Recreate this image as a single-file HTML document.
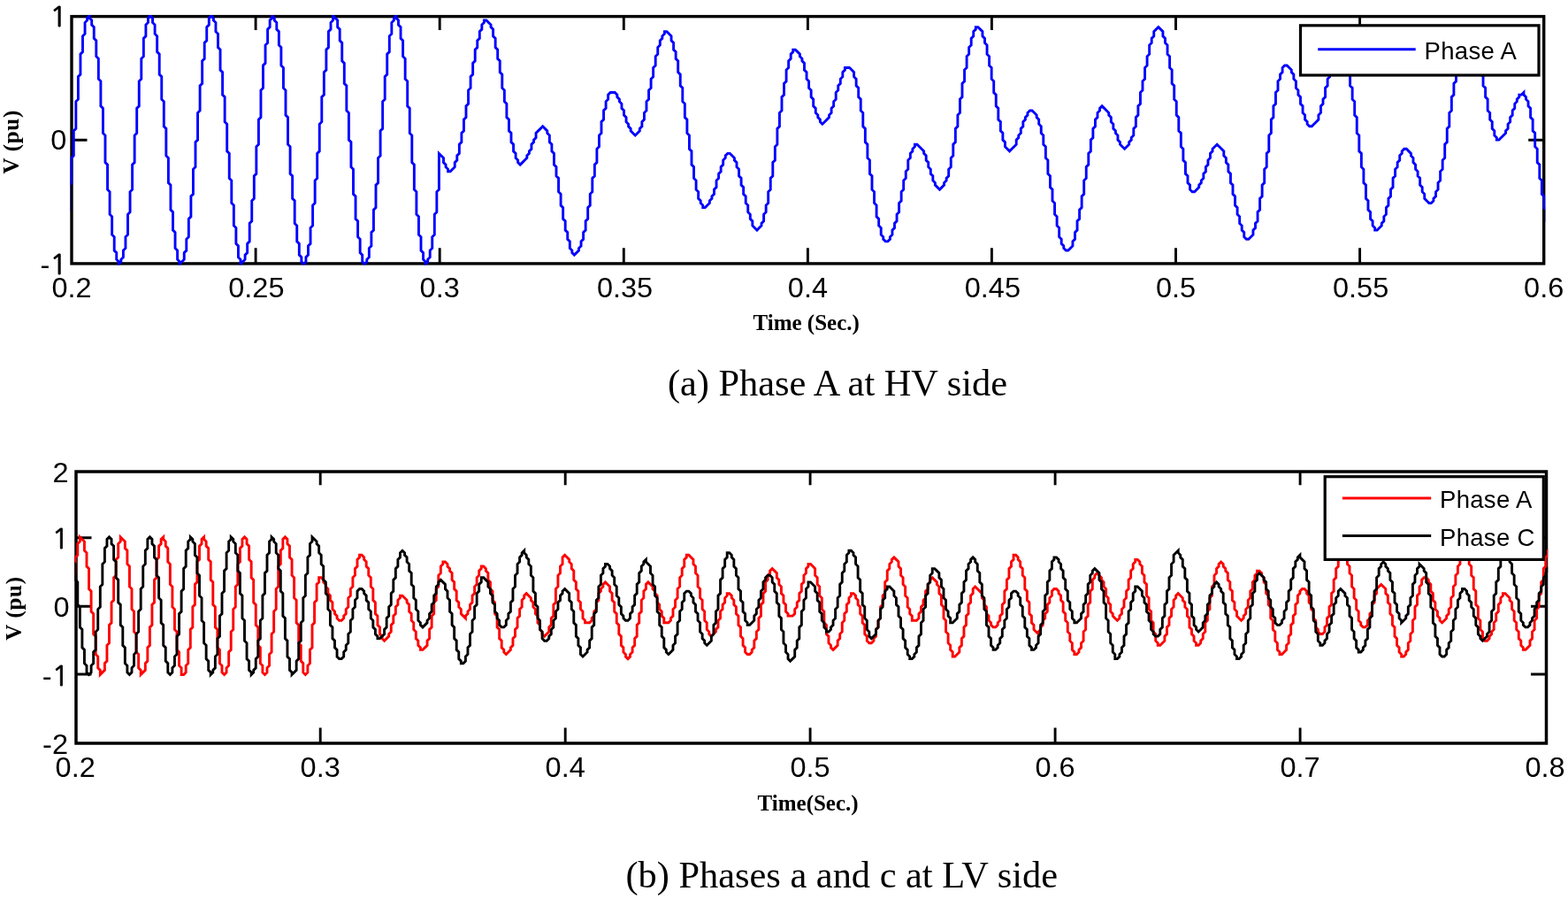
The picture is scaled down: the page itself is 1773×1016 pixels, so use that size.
<!DOCTYPE html>
<html><head><meta charset="utf-8"><style>
html,body{margin:0;padding:0;background:#fff;}
svg{display:block;}
.tk{font-family:"Liberation Sans",Arial,sans-serif;font-size:32.5px;fill:#000;}
.one{font-family:"NanumGothic","Liberation Sans",sans-serif;stroke:#000;stroke-width:0.8px;}
.lg{font-family:"Liberation Sans",Arial,sans-serif;font-size:27.5px;fill:#000;letter-spacing:0.3px;}
.al{font-family:"Liberation Serif","Times New Roman",serif;font-weight:bold;font-size:25px;fill:#000;}
.cap{font-family:"Liberation Serif","Times New Roman",serif;font-size:42.4px;fill:#000;}
</style></head><body>
<svg width="1773" height="1016" viewBox="0 0 1773 1016">
<defs>
<clipPath id="ca"><rect x="79.4" y="17.0" width="1667.9" height="282.49999999999994"/></clipPath>
<clipPath id="cb"><rect x="84.3" y="531.3" width="1665.9" height="310.4"/></clipPath>
</defs>
<rect width="1773" height="1016" fill="#fff"/>
<!-- plot a -->
<path d="M289.1 297.9V280.3M289.1 18.6V33.9M497.2 297.9V280.3M497.2 18.6V33.9M705.3 297.9V280.3M705.3 18.6V33.9M913.4 297.9V280.3M913.4 18.6V33.9M1121.4 297.9V280.3M1121.4 18.6V33.9M1329.5 297.9V280.3M1329.5 18.6V33.9M1537.6 297.9V280.3M1537.6 18.6V33.9M81.0 158.2H98.5M1745.7 158.2H1728.2" stroke="#000" stroke-width="2.9" fill="none"/>
<rect x="81.0" y="18.6" width="1664.7" height="279.29999999999995" fill="none" stroke="#000" stroke-width="3.4"/>
<g clip-path="url(#ca)" fill="none" stroke-linejoin="miter" stroke-linecap="square">
<path d="M78.20 237.15L78.20 209.10L80.75 206.55L80.75 178.50L83.30 175.95L83.30 147.90L85.85 145.35L85.85 114.75L88.40 112.20L88.40 86.70L90.95 84.15L90.95 61.20L93.50 58.65L93.50 40.80L96.05 38.25L96.05 25.50L98.60 22.95L98.60 20.40L101.15 17.85L101.15 20.40L103.70 22.95L103.70 28.05L106.25 30.60L106.25 43.35L108.80 45.90L108.80 63.75L111.35 66.30L111.35 89.25L113.90 91.80L113.90 119.85L116.45 122.40L116.45 150.45L119.00 153.00L119.00 183.60L121.55 186.15L121.55 214.20L124.10 216.75L124.10 242.25L126.65 244.80L126.65 265.20L129.20 267.75L129.20 283.05L131.75 285.60L131.75 293.25L134.30 295.80L134.30 298.35L136.85 295.80L136.85 293.25L139.40 290.70L139.40 283.05L141.95 280.50L141.95 267.75L144.50 265.20L144.50 242.25L147.05 239.70L147.05 216.75L149.60 214.20L149.60 186.15L152.15 183.60L152.15 153.00L154.70 150.45L154.70 122.40L157.25 119.85L157.25 91.80L159.80 89.25L159.80 66.30L162.35 63.75L162.35 43.35L164.90 40.80L164.90 28.05L167.45 25.50L167.45 20.40L170.00 17.85L172.55 20.40L172.55 25.50L175.10 28.05L175.10 38.25L177.65 40.80L177.65 58.65L180.20 61.20L180.20 84.15L182.75 86.70L182.75 112.20L185.30 114.75L185.30 142.80L187.85 145.35L187.85 175.95L190.40 178.50L190.40 206.55L192.95 209.10L192.95 237.15L195.50 239.70L195.50 260.10L198.05 262.65L198.05 280.50L200.60 283.05L200.60 293.25L203.15 295.80L203.15 298.35L205.70 295.80L208.25 293.25L208.25 285.60L210.80 283.05L210.80 270.30L213.35 267.75L213.35 247.35L215.90 244.80L215.90 221.85L218.45 219.30L218.45 191.25L221.00 188.70L221.00 160.65L223.55 158.10L223.55 127.50L226.10 124.95L226.10 96.90L228.65 94.35L228.65 68.85L231.20 66.30L231.20 48.45L233.75 45.90L233.75 30.60L236.30 28.05L236.30 20.40L238.85 17.85L241.40 20.40L241.40 22.95L243.95 25.50L243.95 35.70L246.50 38.25L246.50 53.55L249.05 56.10L249.05 79.05L251.60 81.60L251.60 107.10L254.15 109.65L254.15 137.70L256.70 140.25L256.70 170.85L259.25 173.40L259.25 201.45L261.80 204.00L261.80 229.50L264.35 232.05L264.35 255.00L266.90 257.55L266.90 275.40L269.45 277.95L269.45 290.70L272.00 293.25L272.00 298.35L274.55 295.80L277.10 293.25L277.10 288.15L279.65 285.60L279.65 275.40L282.20 272.85L282.20 252.45L284.75 249.90L284.75 226.95L287.30 224.40L287.30 198.90L289.85 196.35L289.85 165.75L292.40 163.20L292.40 135.15L294.95 132.60L294.95 102.00L297.50 99.45L297.50 73.95L300.05 71.40L300.05 51.00L302.60 48.45L302.60 33.15L305.15 30.60L305.15 22.95L307.70 20.40L307.70 17.85L310.25 20.40L310.25 22.95L312.80 25.50L312.80 33.15L315.35 35.70L315.35 51.00L317.90 53.55L317.90 73.95L320.45 76.50L320.45 99.45L323.00 102.00L323.00 130.05L325.55 132.60L325.55 163.20L328.10 165.75L328.10 196.35L330.65 198.90L330.65 224.40L333.20 226.95L333.20 252.45L335.75 255.00L335.75 272.85L338.30 275.40L338.30 288.15L340.85 290.70L340.85 295.80L343.40 298.35L345.95 295.80L345.95 290.70L348.50 288.15L348.50 277.95L351.05 275.40L351.05 257.55L353.60 255.00L353.60 232.05L356.15 229.50L356.15 204.00L358.70 201.45L358.70 173.40L361.25 170.85L361.25 140.25L363.80 137.70L363.80 109.65L366.35 107.10L366.35 81.60L368.90 79.05L368.90 56.10L371.45 53.55L371.45 35.70L374.00 33.15L374.00 25.50L376.55 22.95L376.55 17.85L379.10 20.40L381.65 22.95L381.65 30.60L384.20 33.15L384.20 45.90L386.75 48.45L386.75 68.85L389.30 71.40L389.30 94.35L391.85 96.90L391.85 124.95L394.40 127.50L394.40 158.10L396.95 160.65L396.95 188.70L399.50 191.25L399.50 219.30L402.05 221.85L402.05 247.35L404.60 249.90L404.60 267.75L407.15 270.30L407.15 285.60L409.70 288.15L409.70 295.80L412.25 298.35L414.80 295.80L414.80 293.25L417.35 290.70L417.35 280.50L419.90 277.95L419.90 262.65L422.45 260.10L422.45 237.15L425.00 234.60L425.00 209.10L427.55 206.55L427.55 178.50L430.10 175.95L430.10 147.90L432.65 145.35L432.65 114.75L435.20 112.20L435.20 86.70L437.75 84.15L437.75 61.20L440.30 58.65L440.30 40.80L442.85 38.25L442.85 25.50L445.40 22.95L445.40 20.40L447.95 17.85L447.95 20.40L450.50 22.95L450.50 28.05L453.05 30.60L453.05 43.35L455.60 45.90L455.60 63.75L458.15 66.30L458.15 89.25L460.70 91.80L460.70 119.85L463.25 122.40L463.25 150.45L465.80 153.00L465.80 183.60L468.35 186.15L468.35 214.20L470.90 216.75L470.90 242.25L473.45 244.80L473.45 265.20L476.00 267.75L476.00 283.05L478.55 285.60L478.55 293.25L481.10 295.80L481.10 298.35L483.65 295.80L483.65 293.25L486.20 290.70L486.20 283.05L488.75 280.50L488.75 267.75L491.30 265.20L491.30 242.25L493.85 239.70L493.85 216.75L496.40 214.20L496.40 173.40L498.95 175.95L501.50 178.50L501.50 183.60L504.05 186.15L504.05 188.70L506.60 191.25L506.60 193.80L509.15 193.80L511.70 191.25L514.25 188.70L514.25 183.60L516.80 181.05L516.80 175.95L519.35 173.40L519.35 163.20L521.90 160.65L521.90 150.45L524.45 147.90L524.45 135.15L527.00 132.60L527.00 119.85L529.55 117.30L529.55 102.00L532.10 99.45L532.10 86.70L534.65 84.15L534.65 71.40L537.20 68.85L537.20 56.10L539.75 53.55L539.75 45.90L542.30 43.35L542.30 35.70L544.85 33.15L544.85 28.05L547.40 25.50L547.40 22.95L549.95 22.95L552.50 25.50L555.05 28.05L555.05 30.60L557.60 33.15L557.60 40.80L560.15 43.35L560.15 53.55L562.70 56.10L562.70 66.30L565.25 68.85L565.25 81.60L567.80 84.15L567.80 99.45L570.35 102.00L570.35 114.75L572.90 117.30L572.90 132.60L575.45 135.15L575.45 147.90L578.00 150.45L578.00 160.65L580.55 163.20L580.55 170.85L583.10 173.40L583.10 178.50L585.65 181.05L585.65 183.60L588.20 186.15L590.75 183.60L593.30 181.05L595.85 178.50L595.85 175.95L598.40 173.40L598.40 170.85L600.95 168.30L600.95 163.20L603.50 160.65L603.50 158.10L606.05 155.55L606.05 150.45L608.60 147.90L611.15 145.35L613.70 142.80L616.25 145.35L618.80 147.90L618.80 150.45L621.35 153.00L621.35 160.65L623.90 163.20L623.90 170.85L626.45 173.40L626.45 186.15L629.00 188.70L629.00 198.90L631.55 201.45L631.55 216.75L634.10 219.30L634.10 232.05L636.65 234.60L636.65 247.35L639.20 249.90L639.20 260.10L641.75 262.65L641.75 270.30L644.30 272.85L644.30 280.50L646.85 283.05L646.85 285.60L649.40 288.15L651.95 285.60L654.50 283.05L654.50 280.50L657.05 277.95L657.05 272.85L659.60 270.30L659.60 262.65L662.15 260.10L662.15 249.90L664.70 247.35L664.70 234.60L667.25 232.05L667.25 219.30L669.80 216.75L669.80 201.45L672.35 198.90L672.35 186.15L674.90 183.60L674.90 168.30L677.45 165.75L677.45 153.00L680.00 150.45L680.00 137.70L682.55 135.15L682.55 124.95L685.10 122.40L685.10 114.75L687.65 112.20L687.65 107.10L690.20 104.55L692.75 104.55L695.30 104.55L697.85 107.10L697.85 109.65L700.40 112.20L700.40 114.75L702.95 117.30L702.95 122.40L705.50 124.95L705.50 130.05L708.05 132.60L708.05 137.70L710.60 140.25L710.60 142.80L713.15 145.35L713.15 147.90L715.70 150.45L718.25 153.00L720.80 150.45L723.35 147.90L723.35 145.35L725.90 142.80L725.90 137.70L728.45 135.15L728.45 127.50L731.00 124.95L731.00 114.75L733.55 112.20L733.55 102.00L736.10 99.45L736.10 89.25L738.65 86.70L738.65 76.50L741.20 73.95L741.20 63.75L743.75 61.20L743.75 53.55L746.30 51.00L746.30 45.90L748.85 43.35L748.85 40.80L751.40 38.25L751.40 35.70L753.95 35.70L756.50 38.25L759.05 40.80L759.05 45.90L761.60 48.45L761.60 56.10L764.15 58.65L764.15 66.30L766.70 68.85L766.70 81.60L769.25 84.15L769.25 96.90L771.80 99.45L771.80 114.75L774.35 117.30L774.35 132.60L776.90 135.15L776.90 150.45L779.45 153.00L779.45 168.30L782.00 170.85L782.00 186.15L784.55 188.70L784.55 201.45L787.10 204.00L787.10 214.20L789.65 216.75L789.65 224.40L792.20 226.95L792.20 229.50L794.75 232.05L794.75 234.60L797.30 234.60L799.85 232.05L802.40 229.50L802.40 226.95L804.95 224.40L804.95 221.85L807.50 219.30L807.50 214.20L810.05 211.65L810.05 204.00L812.60 201.45L812.60 196.35L815.15 193.80L815.15 188.70L817.70 186.15L817.70 181.05L820.25 178.50L820.25 175.95L822.80 173.40L825.35 173.40L827.90 175.95L830.45 178.50L830.45 181.05L833.00 183.60L833.00 188.70L835.55 191.25L835.55 198.90L838.10 201.45L838.10 209.10L840.65 211.65L840.65 219.30L843.20 221.85L843.20 229.50L845.75 232.05L845.75 239.70L848.30 242.25L848.30 247.35L850.85 249.90L850.85 255.00L853.40 257.55L855.95 260.10L858.50 257.55L861.05 255.00L861.05 252.45L863.60 249.90L863.60 242.25L866.15 239.70L866.15 232.05L868.70 229.50L868.70 216.75L871.25 214.20L871.25 201.45L873.80 198.90L873.80 183.60L876.35 181.05L876.35 165.75L878.90 163.20L878.90 145.35L881.45 142.80L881.45 127.50L884.00 124.95L884.00 109.65L886.55 107.10L886.55 94.35L889.10 91.80L889.10 79.05L891.65 76.50L891.65 68.85L894.20 66.30L894.20 61.20L896.75 58.65L896.75 56.10L899.30 56.10L901.85 58.65L904.40 61.20L904.40 63.75L906.95 66.30L906.95 68.85L909.50 71.40L909.50 79.05L912.05 81.60L912.05 89.25L914.60 91.80L914.60 99.45L917.15 102.00L917.15 109.65L919.70 112.20L919.70 119.85L922.25 122.40L922.25 127.50L924.80 130.05L924.80 132.60L927.35 135.15L927.35 137.70L929.90 140.25L932.45 137.70L935.00 135.15L937.55 132.60L937.55 130.05L940.10 127.50L940.10 122.40L942.65 119.85L942.65 114.75L945.20 112.20L945.20 104.55L947.75 102.00L947.75 96.90L950.30 94.35L950.30 89.25L952.85 86.70L952.85 81.60L955.40 79.05L955.40 76.50L957.95 76.50L960.50 76.50L963.05 79.05L965.60 81.60L965.60 86.70L968.15 89.25L968.15 96.90L970.70 99.45L970.70 109.65L973.25 112.20L973.25 124.95L975.80 127.50L975.80 142.80L978.35 145.35L978.35 160.65L980.90 163.20L980.90 178.50L983.45 181.05L983.45 196.35L986.00 198.90L986.00 214.20L988.55 216.75L988.55 229.50L991.10 232.05L991.10 244.80L993.65 247.35L993.65 255.00L996.20 257.55L996.20 265.20L998.75 267.75L998.75 270.30L1001.30 272.85L1003.85 272.85L1006.40 270.30L1006.40 267.75L1008.95 265.20L1008.95 260.10L1011.50 257.55L1011.50 252.45L1014.05 249.90L1014.05 242.25L1016.60 239.70L1016.60 229.50L1019.15 226.95L1019.15 216.75L1021.70 214.20L1021.70 204.00L1024.25 201.45L1024.25 193.80L1026.80 191.25L1026.80 181.05L1029.35 178.50L1029.35 173.40L1031.90 170.85L1031.90 168.30L1034.45 165.75L1034.45 163.20L1037.00 163.20L1039.55 165.75L1042.10 168.30L1044.65 170.85L1044.65 173.40L1047.20 175.95L1047.20 181.05L1049.75 183.60L1049.75 188.70L1052.30 191.25L1052.30 196.35L1054.85 198.90L1054.85 204.00L1057.40 206.55L1057.40 209.10L1059.95 211.65L1062.50 214.20L1065.05 211.65L1067.60 209.10L1067.60 206.55L1070.15 204.00L1070.15 201.45L1072.70 198.90L1072.70 191.25L1075.25 188.70L1075.25 178.50L1077.80 175.95L1077.80 163.20L1080.35 160.65L1080.35 145.35L1082.90 142.80L1082.90 130.05L1085.45 127.50L1085.45 112.20L1088.00 109.65L1088.00 94.35L1090.55 91.80L1090.55 79.05L1093.10 76.50L1093.10 63.75L1095.65 61.20L1095.65 53.55L1098.20 51.00L1098.20 43.35L1100.75 40.80L1100.75 35.70L1103.30 33.15L1103.30 30.60L1105.85 30.60L1108.40 33.15L1110.95 35.70L1110.95 40.80L1113.50 43.35L1113.50 48.45L1116.05 51.00L1116.05 61.20L1118.60 63.75L1118.60 73.95L1121.15 76.50L1121.15 89.25L1123.70 91.80L1123.70 104.55L1126.25 107.10L1126.25 119.85L1128.80 122.40L1128.80 135.15L1131.35 137.70L1131.35 147.90L1133.90 150.45L1133.90 158.10L1136.45 160.65L1136.45 165.75L1139.00 168.30L1141.55 170.85L1144.10 168.30L1146.65 165.75L1149.20 163.20L1149.20 158.10L1151.75 155.55L1151.75 153.00L1154.30 150.45L1154.30 145.35L1156.85 142.80L1156.85 137.70L1159.40 135.15L1159.40 132.60L1161.95 130.05L1161.95 127.50L1164.50 124.95L1167.05 124.95L1169.60 127.50L1172.15 130.05L1172.15 132.60L1174.70 135.15L1174.70 140.25L1177.25 142.80L1177.25 150.45L1179.80 153.00L1179.80 163.20L1182.35 165.75L1182.35 178.50L1184.90 181.05L1184.90 196.35L1187.45 198.90L1187.45 211.65L1190.00 214.20L1190.00 226.95L1192.55 229.50L1192.55 242.25L1195.10 244.80L1195.10 255.00L1197.65 257.55L1197.65 267.75L1200.20 270.30L1200.20 275.40L1202.75 277.95L1202.75 280.50L1205.30 283.05L1207.85 283.05L1210.40 280.50L1212.95 277.95L1212.95 272.85L1215.50 270.30L1215.50 262.65L1218.05 260.10L1218.05 249.90L1220.60 247.35L1220.60 237.15L1223.15 234.60L1223.15 221.85L1225.70 219.30L1225.70 204.00L1228.25 201.45L1228.25 188.70L1230.80 186.15L1230.80 173.40L1233.35 170.85L1233.35 158.10L1235.90 155.55L1235.90 145.35L1238.45 142.80L1238.45 135.15L1241.00 132.60L1241.00 127.50L1243.55 124.95L1243.55 122.40L1246.10 119.85L1248.65 122.40L1251.20 124.95L1253.75 127.50L1253.75 130.05L1256.30 132.60L1256.30 137.70L1258.85 140.25L1258.85 145.35L1261.40 147.90L1261.40 150.45L1263.95 153.00L1263.95 158.10L1266.50 160.65L1266.50 163.20L1269.05 165.75L1271.60 168.30L1274.15 165.75L1276.70 163.20L1276.70 160.65L1279.25 158.10L1279.25 155.55L1281.80 153.00L1281.80 145.35L1284.35 142.80L1284.35 132.60L1286.90 130.05L1286.90 119.85L1289.45 117.30L1289.45 104.55L1292.00 102.00L1292.00 91.80L1294.55 89.25L1294.55 76.50L1297.10 73.95L1297.10 63.75L1299.65 61.20L1299.65 51.00L1302.20 48.45L1302.20 43.35L1304.75 40.80L1304.75 35.70L1307.30 33.15L1309.85 30.60L1312.40 33.15L1314.95 35.70L1314.95 40.80L1317.50 43.35L1317.50 48.45L1320.05 51.00L1320.05 61.20L1322.60 63.75L1322.60 76.50L1325.15 79.05L1325.15 94.35L1327.70 96.90L1327.70 112.20L1330.25 114.75L1330.25 130.05L1332.80 132.60L1332.80 147.90L1335.35 150.45L1335.35 165.75L1337.90 168.30L1337.90 181.05L1340.45 183.60L1340.45 196.35L1343.00 198.90L1343.00 206.55L1345.55 209.10L1345.55 214.20L1348.10 216.75L1350.65 216.75L1353.20 214.20L1355.75 211.65L1355.75 209.10L1358.30 206.55L1358.30 204.00L1360.85 201.45L1360.85 196.35L1363.40 193.80L1363.40 188.70L1365.95 186.15L1365.95 181.05L1368.50 178.50L1368.50 173.40L1371.05 170.85L1371.05 168.30L1373.60 165.75L1376.15 163.20L1378.70 165.75L1381.25 168.30L1383.80 170.85L1383.80 175.95L1386.35 178.50L1386.35 183.60L1388.90 186.15L1388.90 193.80L1391.45 196.35L1391.45 206.55L1394.00 209.10L1394.00 219.30L1396.55 221.85L1396.55 232.05L1399.10 234.60L1399.10 242.25L1401.65 244.80L1401.65 252.45L1404.20 255.00L1404.20 260.10L1406.75 262.65L1406.75 267.75L1409.30 270.30L1411.85 270.30L1414.40 267.75L1416.95 265.20L1416.95 260.10L1419.50 257.55L1419.50 252.45L1422.05 249.90L1422.05 239.70L1424.60 237.15L1424.60 224.40L1427.15 221.85L1427.15 209.10L1429.70 206.55L1429.70 191.25L1432.25 188.70L1432.25 173.40L1434.80 170.85L1434.80 153.00L1437.35 150.45L1437.35 135.15L1439.90 132.60L1439.90 119.85L1442.45 117.30L1442.45 104.55L1445.00 102.00L1445.00 91.80L1447.55 89.25L1447.55 84.15L1450.10 81.60L1450.10 76.50L1452.65 73.95L1455.20 73.95L1457.75 76.50L1460.30 79.05L1460.30 81.60L1462.85 84.15L1462.85 89.25L1465.40 91.80L1465.40 99.45L1467.95 102.00L1467.95 107.10L1470.50 109.65L1470.50 117.30L1473.05 119.85L1473.05 127.50L1475.60 130.05L1475.60 135.15L1478.15 137.70L1478.15 140.25L1480.70 142.80L1483.25 142.80L1485.80 140.25L1488.35 137.70L1490.90 135.15L1490.90 130.05L1493.45 127.50L1493.45 119.85L1496.00 117.30L1496.00 112.20L1498.55 109.65L1498.55 99.45L1501.10 96.90L1501.10 89.25L1503.65 86.70L1503.65 79.05L1506.20 76.50L1506.20 71.40L1508.75 68.85L1508.75 63.75L1511.30 61.20L1511.30 58.65L1513.85 56.10L1516.40 58.65L1518.95 61.20L1521.50 63.75L1521.50 71.40L1524.05 73.95L1524.05 81.60L1526.60 84.15L1526.60 96.90L1529.15 99.45L1529.15 112.20L1531.70 114.75L1531.70 130.05L1534.25 132.60L1534.25 150.45L1536.80 153.00L1536.80 170.85L1539.35 173.40L1539.35 188.70L1541.90 191.25L1541.90 206.55L1544.45 209.10L1544.45 224.40L1547.00 226.95L1547.00 237.15L1549.55 239.70L1549.55 247.35L1552.10 249.90L1552.10 255.00L1554.65 257.55L1554.65 260.10L1557.20 260.10L1559.75 257.55L1562.30 255.00L1562.30 252.45L1564.85 249.90L1564.85 244.80L1567.40 242.25L1567.40 234.60L1569.95 232.05L1569.95 224.40L1572.50 221.85L1572.50 214.20L1575.05 211.65L1575.05 201.45L1577.60 198.90L1577.60 191.25L1580.15 188.70L1580.15 183.60L1582.70 181.05L1582.70 175.95L1585.25 173.40L1585.25 170.85L1587.80 168.30L1590.35 168.30L1592.90 170.85L1595.45 173.40L1595.45 175.95L1598.00 178.50L1598.00 183.60L1600.55 186.15L1600.55 191.25L1603.10 193.80L1603.10 198.90L1605.65 201.45L1605.65 209.10L1608.20 211.65L1608.20 216.75L1610.75 219.30L1610.75 224.40L1613.30 226.95L1615.85 229.50L1618.40 229.50L1620.95 226.95L1620.95 224.40L1623.50 221.85L1623.50 216.75L1626.05 214.20L1626.05 206.55L1628.60 204.00L1628.60 193.80L1631.15 191.25L1631.15 181.05L1633.70 178.50L1633.70 163.20L1636.25 160.65L1636.25 145.35L1638.80 142.80L1638.80 127.50L1641.35 124.95L1641.35 109.65L1643.90 107.10L1643.90 94.35L1646.45 91.80L1646.45 76.50L1649.00 73.95L1649.00 63.75L1651.55 61.20L1651.55 53.55L1654.10 51.00L1654.10 43.35L1656.65 40.80L1656.65 38.25L1659.20 35.70L1661.75 38.25L1664.30 40.80L1666.85 43.35L1666.85 48.45L1669.40 51.00L1669.40 58.65L1671.95 61.20L1671.95 68.85L1674.50 71.40L1674.50 84.15L1677.05 86.70L1677.05 96.90L1679.60 99.45L1679.60 109.65L1682.15 112.20L1682.15 124.95L1684.70 127.50L1684.70 135.15L1687.25 137.70L1687.25 145.35L1689.80 147.90L1689.80 153.00L1692.35 155.55L1692.35 158.10L1694.90 158.10L1697.45 155.55L1700.00 153.00L1702.55 150.45L1702.55 147.90L1705.10 145.35L1705.10 140.25L1707.65 137.70L1707.65 132.60L1710.20 130.05L1710.20 124.95L1712.75 122.40L1712.75 117.30L1715.30 114.75L1715.30 112.20L1717.85 109.65L1717.85 107.10L1720.40 107.10L1722.95 104.55L1722.95 107.10L1725.50 109.65L1725.50 112.20L1728.05 114.75L1728.05 119.85L1730.60 122.40L1730.60 132.60L1733.15 135.15L1733.15 147.90L1735.70 150.45L1735.70 165.75L1738.25 168.30L1738.25 183.60L1740.80 186.15L1740.80 201.45L1743.35 204.00L1743.35 219.30L1745.90 221.85L1745.90 234.60L1748.45 237.15L1748.45 249.90L1751.00 252.45L1751.00 260.10" stroke="#0000ff" stroke-width="2.9"/>
</g>
<g class="tk">
<text transform="translate(76.0,29.9) scale(1,0.950)" text-anchor="end"><tspan class="one">1</tspan></text><text transform="translate(75.3,169.2) scale(1,0.950)" text-anchor="end">0</text><text transform="translate(76.0,309.8) scale(1,0.950)" text-anchor="end">-<tspan class="one">1</tspan></text>
<text transform="translate(81.0,335.9) scale(1,0.950)" text-anchor="middle">0.2</text><text transform="translate(289.9,335.9) scale(1,0.950)" text-anchor="middle">0.25</text><text transform="translate(497.2,335.9) scale(1,0.950)" text-anchor="middle">0.3</text><text transform="translate(706.5,335.9) scale(1,0.950)" text-anchor="middle">0.35</text><text transform="translate(913.4,335.9) scale(1,0.950)" text-anchor="middle">0.4</text><text transform="translate(1122.4,335.9) scale(1,0.950)" text-anchor="middle">0.45</text><text transform="translate(1329.5,335.9) scale(1,0.950)" text-anchor="middle">0.5</text><text transform="translate(1538.6,335.9) scale(1,0.950)" text-anchor="middle">0.55</text><text transform="translate(1745.7,335.9) scale(1,0.950)" text-anchor="middle">0.6</text>
</g>
<text class="al" transform="translate(21.1,160.3) rotate(-90)" style="font-size:25px;letter-spacing:0.7px" text-anchor="middle">V (pu)</text>
<text class="al" x="911.7" y="373.1" text-anchor="middle">Time (Sec.)</text>
<text class="cap" x="947" y="447.4" text-anchor="middle">(a) Phase A at HV side</text>
<rect x="1470.5" y="28.8" width="269.5" height="56.2" fill="#fff" stroke="#000" stroke-width="3.2"/>
<path d="M1490.2 55.7H1600.7" stroke="#0000ff" stroke-width="3"/>
<text class="lg" x="1610.6" y="67.4">Phase A</text>
<!-- plot b -->
<path d="M362.2 840.0V822.4M362.2 533.0V548.3M639.2 840.0V822.4M639.2 533.0V548.3M916.1 840.0V822.4M916.1 533.0V548.3M1193.1 840.0V822.4M1193.1 533.0V548.3M1470.1 840.0V822.4M1470.1 533.0V548.3M86.0 607.8H103.5M1748.5 607.8H1731.0M86.0 685.3H103.5M1748.5 685.3H1731.0M86.0 762.0H103.5M1748.5 762.0H1731.0" stroke="#000" stroke-width="2.9" fill="none"/>
<rect x="86.0" y="533.0" width="1662.5" height="307.0" fill="none" stroke="#000" stroke-width="3.5"/>
<g clip-path="url(#cb)" fill="none" stroke-linejoin="miter" stroke-linecap="square">
<path d="M82.70 675.75L82.70 650.25L85.25 647.70L85.25 629.85L87.80 627.30L87.80 614.55L90.35 612.00L90.35 606.90L92.90 609.45L95.45 612.00L95.45 622.20L98.00 624.75L98.00 640.05L100.55 642.60L100.55 665.55L103.10 668.10L103.10 691.05L105.65 693.60L105.65 716.55L108.20 719.10L108.20 739.50L110.75 742.05L110.75 754.80L113.30 757.35L113.30 762.45L115.85 759.90L118.40 757.35L118.40 749.70L120.95 747.15L120.95 729.30L123.50 726.75L123.50 706.35L126.05 703.80L126.05 680.85L128.60 678.30L128.60 652.80L131.15 650.25L131.15 632.40L133.70 629.85L133.70 614.55L136.25 612.00L136.25 606.90L138.80 609.45L141.35 612.00L141.35 619.65L143.90 622.20L143.90 637.50L146.45 640.05L146.45 663.00L149.00 665.55L149.00 688.50L151.55 691.05L151.55 714.00L154.10 716.55L154.10 736.95L156.65 739.50L156.65 754.80L159.20 757.35L159.20 762.45L161.75 759.90L164.30 757.35L164.30 749.70L166.85 747.15L166.85 731.85L169.40 729.30L169.40 708.90L171.95 706.35L171.95 683.40L174.50 680.85L174.50 655.35L177.05 652.80L177.05 632.40L179.60 629.85L179.60 617.10L182.15 614.55L182.15 609.45L184.70 606.90L184.70 609.45L187.25 612.00L187.25 617.10L189.80 619.65L189.80 634.95L192.35 637.50L192.35 660.45L194.90 663.00L194.90 685.95L197.45 688.50L197.45 711.45L200.00 714.00L200.00 734.40L202.55 736.95L202.55 752.25L205.10 754.80L205.10 762.45L207.65 762.45L210.20 759.90L210.20 752.25L212.75 749.70L212.75 734.40L215.30 731.85L215.30 711.45L217.85 708.90L217.85 685.95L220.40 683.40L220.40 660.45L222.95 657.90L222.95 634.95L225.50 632.40L225.50 617.10L228.05 614.55L228.05 609.45L230.60 606.90L230.60 609.45L233.15 612.00L233.15 617.10L235.70 619.65L235.70 632.40L238.25 634.95L238.25 655.35L240.80 657.90L240.80 683.40L243.35 685.95L243.35 708.90L245.90 711.45L245.90 731.85L248.45 734.40L248.45 749.70L251.00 752.25L251.00 759.90L253.55 762.45L256.10 759.90L256.10 754.80L258.65 752.25L258.65 736.95L261.20 734.40L261.20 714.00L263.75 711.45L263.75 688.50L266.30 685.95L266.30 663.00L268.85 660.45L268.85 637.50L271.40 634.95L271.40 619.65L273.95 617.10L273.95 609.45L276.50 606.90L279.05 609.45L279.05 614.55L281.60 617.10L281.60 632.40L284.15 634.95L284.15 652.80L286.70 655.35L286.70 680.85L289.25 683.40L289.25 706.35L291.80 708.90L291.80 729.30L294.35 731.85L294.35 749.70L296.90 752.25L296.90 759.90L299.45 762.45L302.00 759.90L302.00 754.80L304.55 752.25L304.55 739.50L307.10 736.95L307.10 716.55L309.65 714.00L309.65 691.05L312.20 688.50L312.20 665.55L314.75 663.00L314.75 640.05L317.30 637.50L317.30 622.20L319.85 619.65L319.85 609.45L322.40 606.90L324.95 609.45L324.95 614.55L327.50 617.10L327.50 629.85L330.05 632.40L330.05 650.25L332.60 652.80L332.60 675.75L335.15 678.30L335.15 703.80L337.70 706.35L337.70 726.75L340.25 729.30L340.25 747.15L342.80 749.70L342.80 759.90L345.35 762.45L347.90 759.90L347.90 752.25L350.45 749.70L350.45 734.40L353.00 731.85L353.00 706.35L355.55 703.80L355.55 680.85L358.10 678.30L358.10 660.45L360.65 657.90L360.65 652.80L363.20 652.80L365.75 655.35L365.75 657.90L368.30 660.45L368.30 663.00L370.85 665.55L370.85 670.65L373.40 673.20L373.40 678.30L375.95 680.85L375.95 688.50L378.50 691.05L378.50 693.60L381.05 696.15L381.05 698.70L383.60 701.25L386.15 701.25L388.70 698.70L388.70 696.15L391.25 693.60L391.25 688.50L393.80 685.95L393.80 675.75L396.35 673.20L396.35 665.55L398.90 663.00L398.90 652.80L401.45 650.25L401.45 642.60L404.00 640.05L404.00 632.40L406.55 629.85L406.55 627.30L409.10 627.30L411.65 629.85L411.65 632.40L414.20 634.95L414.20 640.05L416.75 642.60L416.75 650.25L419.30 652.80L419.30 663.00L421.85 665.55L421.85 678.30L424.40 680.85L424.40 693.60L426.95 696.15L426.95 706.35L429.50 708.90L429.50 716.55L432.05 719.10L432.05 721.65L434.60 724.20L437.15 721.65L439.70 719.10L439.70 716.55L442.25 714.00L442.25 706.35L444.80 703.80L444.80 696.15L447.35 693.60L447.35 685.95L449.90 683.40L449.90 678.30L452.45 675.75L452.45 673.20L455.00 673.20L457.55 675.75L460.10 678.30L460.10 680.85L462.65 683.40L462.65 691.05L465.20 693.60L465.20 701.25L467.75 703.80L467.75 711.45L470.30 714.00L470.30 721.65L472.85 724.20L472.85 729.30L475.40 731.85L475.40 734.40L477.95 734.40L480.50 731.85L483.05 729.30L483.05 724.20L485.60 721.65L485.60 711.45L488.15 708.90L488.15 696.15L490.70 693.60L490.70 680.85L493.25 678.30L493.25 665.55L495.80 663.00L495.80 650.25L498.35 647.70L498.35 640.05L500.90 637.50L500.90 634.95L503.45 634.95L506.00 637.50L506.00 640.05L508.55 642.60L508.55 645.15L511.10 647.70L511.10 655.35L513.65 657.90L513.65 665.55L516.20 668.10L516.20 678.30L518.75 680.85L518.75 685.95L521.30 688.50L521.30 693.60L523.85 696.15L526.40 698.70L526.40 696.15L528.95 693.60L528.95 691.05L531.50 688.50L531.50 683.40L534.05 680.85L534.05 673.20L536.60 670.65L536.60 663.00L539.15 660.45L539.15 652.80L541.70 650.25L541.70 645.15L544.25 642.60L544.25 640.05L546.80 640.05L549.35 642.60L549.35 645.15L551.90 647.70L551.90 655.35L554.45 657.90L554.45 665.55L557.00 668.10L557.00 678.30L559.55 680.85L559.55 693.60L562.10 696.15L562.10 708.90L564.65 711.45L564.65 721.65L567.20 724.20L567.20 731.85L569.75 734.40L569.75 736.95L572.30 739.50L574.85 736.95L577.40 734.40L577.40 731.85L579.95 729.30L579.95 721.65L582.50 719.10L582.50 711.45L585.05 708.90L585.05 698.70L587.60 696.15L587.60 688.50L590.15 685.95L590.15 678.30L592.70 675.75L592.70 673.20L595.25 670.65L597.80 673.20L600.35 675.75L600.35 678.30L602.90 680.85L602.90 685.95L605.45 688.50L605.45 693.60L608.00 696.15L608.00 703.80L610.55 706.35L610.55 711.45L613.10 714.00L613.10 716.55L615.65 719.10L618.20 716.55L620.75 714.00L620.75 708.90L623.30 706.35L623.30 698.70L625.85 696.15L625.85 683.40L628.40 680.85L628.40 665.55L630.95 663.00L630.95 650.25L633.50 647.70L633.50 640.05L636.05 637.50L636.05 629.85L638.60 627.30L641.15 629.85L643.70 632.40L643.70 634.95L646.25 637.50L646.25 642.60L648.80 645.15L648.80 655.35L651.35 657.90L651.35 665.55L653.90 668.10L653.90 678.30L656.45 680.85L656.45 688.50L659.00 691.05L659.00 698.70L661.55 701.25L661.55 703.80L664.10 703.80L666.65 703.80L669.20 701.25L669.20 698.70L671.75 696.15L671.75 691.05L674.30 688.50L674.30 680.85L676.85 678.30L676.85 670.65L679.40 668.10L679.40 665.55L681.95 663.00L681.95 660.45L684.50 657.90L687.05 660.45L689.60 663.00L689.60 668.10L692.15 670.65L692.15 678.30L694.70 680.85L694.70 691.05L697.25 693.60L697.25 703.80L699.80 706.35L699.80 716.55L702.35 719.10L702.35 729.30L704.90 731.85L704.90 736.95L707.45 739.50L707.45 742.05L710.00 744.60L712.55 742.05L712.55 739.50L715.10 736.95L715.10 731.85L717.65 729.30L717.65 721.65L720.20 719.10L720.20 706.35L722.75 703.80L722.75 693.60L725.30 691.05L725.30 678.30L727.85 675.75L727.85 668.10L730.40 665.55L730.40 660.45L732.95 657.90L735.50 660.45L738.05 663.00L738.05 665.55L740.60 668.10L740.60 670.65L743.15 673.20L743.15 680.85L745.70 683.40L745.70 688.50L748.25 691.05L748.25 696.15L750.80 698.70L750.80 703.80L753.35 703.80L755.90 703.80L758.45 701.25L758.45 698.70L761.00 696.15L761.00 688.50L763.55 685.95L763.55 678.30L766.10 675.75L766.10 665.55L768.65 663.00L768.65 652.80L771.20 650.25L771.20 642.60L773.75 640.05L773.75 632.40L776.30 629.85L776.30 627.30L778.85 627.30L781.40 629.85L783.95 632.40L783.95 637.50L786.50 640.05L786.50 647.70L789.05 650.25L789.05 663.00L791.60 665.55L791.60 675.75L794.15 678.30L794.15 688.50L796.70 691.05L796.70 701.25L799.25 703.80L799.25 711.45L801.80 714.00L801.80 716.55L804.35 719.10L806.90 716.55L809.45 714.00L809.45 711.45L812.00 708.90L812.00 701.25L814.55 698.70L814.55 691.05L817.10 688.50L817.10 683.40L819.65 680.85L819.65 675.75L822.20 673.20L822.20 670.65L824.75 670.65L827.30 673.20L827.30 675.75L829.85 678.30L829.85 683.40L832.40 685.95L832.40 693.60L834.95 696.15L834.95 706.35L837.50 708.90L837.50 719.10L840.05 721.65L840.05 729.30L842.60 731.85L842.60 736.95L845.15 739.50L847.70 739.50L850.25 736.95L850.25 734.40L852.80 731.85L852.80 724.20L855.35 721.65L855.35 714.00L857.90 711.45L857.90 698.70L860.45 696.15L860.45 683.40L863.00 680.85L863.00 670.65L865.55 668.10L865.55 657.90L868.10 655.35L868.10 650.25L870.65 647.70L870.65 645.15L873.20 642.60L875.75 645.15L878.30 647.70L878.30 652.80L880.85 655.35L880.85 660.45L883.40 663.00L883.40 670.65L885.95 673.20L885.95 680.85L888.50 683.40L888.50 691.05L891.05 693.60L891.05 696.15L893.60 696.15L896.15 696.15L898.70 693.60L898.70 688.50L901.25 685.95L901.25 680.85L903.80 678.30L903.80 670.65L906.35 668.10L906.35 660.45L908.90 657.90L908.90 650.25L911.45 647.70L911.45 642.60L914.00 640.05L914.00 637.50L916.55 637.50L919.10 640.05L921.65 642.60L921.65 650.25L924.20 652.80L924.20 660.45L926.75 663.00L926.75 673.20L929.30 675.75L929.30 688.50L931.85 691.05L931.85 703.80L934.40 706.35L934.40 716.55L936.95 719.10L936.95 726.75L939.50 729.30L939.50 731.85L942.05 734.40L944.60 731.85L947.15 729.30L947.15 724.20L949.70 721.65L949.70 716.55L952.25 714.00L952.25 703.80L954.80 701.25L954.80 693.60L957.35 691.05L957.35 683.40L959.90 680.85L959.90 675.75L962.45 673.20L962.45 670.65L965.00 670.65L967.55 673.20L967.55 675.75L970.10 678.30L970.10 683.40L972.65 685.95L972.65 693.60L975.20 696.15L975.20 703.80L977.75 706.35L977.75 716.55L980.30 719.10L980.30 724.20L982.85 726.75L985.40 726.75L987.95 724.20L987.95 721.65L990.50 719.10L990.50 711.45L993.05 708.90L993.05 701.25L995.60 698.70L995.60 685.95L998.15 683.40L998.15 673.20L1000.70 670.65L1000.70 657.90L1003.25 655.35L1003.25 645.15L1005.80 642.60L1005.80 637.50L1008.35 634.95L1008.35 632.40L1010.90 629.85L1013.45 632.40L1016.00 634.95L1016.00 640.05L1018.55 642.60L1018.55 650.25L1021.10 652.80L1021.10 660.45L1023.65 663.00L1023.65 673.20L1026.20 675.75L1026.20 685.95L1028.75 688.50L1028.75 693.60L1031.30 696.15L1031.30 701.25L1033.85 701.25L1036.40 701.25L1038.95 698.70L1038.95 693.60L1041.50 691.05L1041.50 685.95L1044.05 683.40L1044.05 678.30L1046.60 675.75L1046.60 668.10L1049.15 665.55L1049.15 660.45L1051.70 657.90L1051.70 655.35L1054.25 652.80L1056.80 655.35L1059.35 657.90L1059.35 660.45L1061.90 663.00L1061.90 670.65L1064.45 673.20L1064.45 683.40L1067.00 685.95L1067.00 698.70L1069.55 701.25L1069.55 714.00L1072.10 716.55L1072.10 726.75L1074.65 729.30L1074.65 734.40L1077.20 736.95L1077.20 742.05L1079.75 742.05L1082.30 739.50L1084.85 736.95L1084.85 731.85L1087.40 729.30L1087.40 721.65L1089.95 719.10L1089.95 708.90L1092.50 706.35L1092.50 696.15L1095.05 693.60L1095.05 683.40L1097.60 680.85L1097.60 673.20L1100.15 670.65L1100.15 665.55L1102.70 663.00L1105.25 665.55L1107.80 668.10L1110.35 670.65L1110.35 675.75L1112.90 678.30L1112.90 683.40L1115.45 685.95L1115.45 693.60L1118.00 696.15L1118.00 701.25L1120.55 703.80L1120.55 706.35L1123.10 708.90L1125.65 708.90L1128.20 706.35L1128.20 703.80L1130.75 701.25L1130.75 696.15L1133.30 693.60L1133.30 683.40L1135.85 680.85L1135.85 668.10L1138.40 665.55L1138.40 655.35L1140.95 652.80L1140.95 642.60L1143.50 640.05L1143.50 634.95L1146.05 632.40L1146.05 627.30L1148.60 627.30L1151.15 629.85L1151.15 632.40L1153.70 634.95L1153.70 640.05L1156.25 642.60L1156.25 650.25L1158.80 652.80L1158.80 665.55L1161.35 668.10L1161.35 678.30L1163.90 680.85L1163.90 693.60L1166.45 696.15L1166.45 703.80L1169.00 706.35L1169.00 711.45L1171.55 714.00L1174.10 716.55L1174.10 714.00L1176.65 711.45L1176.65 708.90L1179.20 706.35L1179.20 701.25L1181.75 698.70L1181.75 693.60L1184.30 691.05L1184.30 683.40L1186.85 680.85L1186.85 675.75L1189.40 673.20L1189.40 668.10L1191.95 665.55L1194.50 665.55L1197.05 668.10L1197.05 670.65L1199.60 673.20L1199.60 678.30L1202.15 680.85L1202.15 691.05L1204.70 693.60L1204.70 701.25L1207.25 703.80L1207.25 714.00L1209.80 716.55L1209.80 724.20L1212.35 726.75L1212.35 734.40L1214.90 736.95L1214.90 739.50L1217.45 739.50L1220.00 736.95L1220.00 734.40L1222.55 731.85L1222.55 726.75L1225.10 724.20L1225.10 714.00L1227.65 711.45L1227.65 698.70L1230.20 696.15L1230.20 683.40L1232.75 680.85L1232.75 668.10L1235.30 665.55L1235.30 655.35L1237.85 652.80L1237.85 650.25L1240.40 647.70L1242.95 650.25L1245.50 652.80L1245.50 655.35L1248.05 657.90L1248.05 663.00L1250.60 665.55L1250.60 673.20L1253.15 675.75L1253.15 680.85L1255.70 683.40L1255.70 691.05L1258.25 693.60L1258.25 696.15L1260.80 698.70L1263.35 701.25L1265.90 698.70L1265.90 696.15L1268.45 693.60L1268.45 688.50L1271.00 685.95L1271.00 678.30L1273.55 675.75L1273.55 668.10L1276.10 665.55L1276.10 655.35L1278.65 652.80L1278.65 645.15L1281.20 642.60L1281.20 637.50L1283.75 634.95L1283.75 632.40L1286.30 632.40L1288.85 634.95L1288.85 637.50L1291.40 640.05L1291.40 647.70L1293.95 650.25L1293.95 657.90L1296.50 660.45L1296.50 673.20L1299.05 675.75L1299.05 688.50L1301.60 691.05L1301.60 701.25L1304.15 703.80L1304.15 714.00L1306.70 716.55L1306.70 724.20L1309.25 726.75L1309.25 729.30L1311.80 729.30L1314.35 726.75L1316.90 724.20L1316.90 719.10L1319.45 716.55L1319.45 708.90L1322.00 706.35L1322.00 698.70L1324.55 696.15L1324.55 688.50L1327.10 685.95L1327.10 678.30L1329.65 675.75L1329.65 673.20L1332.20 670.65L1334.75 673.20L1337.30 675.75L1337.30 678.30L1339.85 680.85L1339.85 685.95L1342.40 688.50L1342.40 696.15L1344.95 698.70L1344.95 708.90L1347.50 711.45L1347.50 716.55L1350.05 719.10L1350.05 724.20L1352.60 726.75L1352.60 729.30L1355.15 729.30L1357.70 726.75L1357.70 724.20L1360.25 721.65L1360.25 716.55L1362.80 714.00L1362.80 703.80L1365.35 701.25L1365.35 691.05L1367.90 688.50L1367.90 675.75L1370.45 673.20L1370.45 663.00L1373.00 660.45L1373.00 650.25L1375.55 647.70L1375.55 642.60L1378.10 640.05L1378.10 637.50L1380.65 634.95L1383.20 637.50L1383.20 640.05L1385.75 642.60L1385.75 645.15L1388.30 647.70L1388.30 655.35L1390.85 657.90L1390.85 665.55L1393.40 668.10L1393.40 678.30L1395.95 680.85L1395.95 688.50L1398.50 691.05L1398.50 696.15L1401.05 698.70L1403.60 701.25L1406.15 698.70L1406.15 696.15L1408.70 693.60L1408.70 688.50L1411.25 685.95L1411.25 678.30L1413.80 675.75L1413.80 668.10L1416.35 665.55L1416.35 657.90L1418.90 655.35L1418.90 650.25L1421.45 647.70L1421.45 645.15L1424.00 645.15L1426.55 647.70L1426.55 650.25L1429.10 652.80L1429.10 657.90L1431.65 660.45L1431.65 670.65L1434.20 673.20L1434.20 683.40L1436.75 685.95L1436.75 698.70L1439.30 701.25L1439.30 711.45L1441.85 714.00L1441.85 724.20L1444.40 726.75L1444.40 734.40L1446.95 736.95L1446.95 739.50L1449.50 739.50L1452.05 736.95L1454.60 734.40L1454.60 729.30L1457.15 726.75L1457.15 719.10L1459.70 716.55L1459.70 706.35L1462.25 703.80L1462.25 696.15L1464.80 693.60L1464.80 683.40L1467.35 680.85L1467.35 673.20L1469.90 670.65L1469.90 668.10L1472.45 665.55L1475.00 665.55L1477.55 668.10L1477.55 670.65L1480.10 673.20L1480.10 680.85L1482.65 683.40L1482.65 688.50L1485.20 691.05L1485.20 698.70L1487.75 701.25L1487.75 708.90L1490.30 711.45L1490.30 714.00L1492.85 716.55L1495.40 716.55L1497.95 714.00L1497.95 708.90L1500.50 706.35L1500.50 698.70L1503.05 696.15L1503.05 685.95L1505.60 683.40L1505.60 670.65L1508.15 668.10L1508.15 655.35L1510.70 652.80L1510.70 642.60L1513.25 640.05L1513.25 632.40L1515.80 629.85L1515.80 624.75L1518.35 624.75L1520.90 627.30L1523.45 629.85L1523.45 637.50L1526.00 640.05L1526.00 647.70L1528.55 650.25L1528.55 663.00L1531.10 665.55L1531.10 675.75L1533.65 678.30L1533.65 688.50L1536.20 691.05L1536.20 701.25L1538.75 703.80L1538.75 706.35L1541.30 708.90L1543.85 708.90L1546.40 706.35L1546.40 701.25L1548.95 698.70L1548.95 693.60L1551.50 691.05L1551.50 683.40L1554.05 680.85L1554.05 673.20L1556.60 670.65L1556.60 665.55L1559.15 663.00L1561.70 660.45L1564.25 663.00L1566.80 665.55L1566.80 670.65L1569.35 673.20L1569.35 680.85L1571.90 683.40L1571.90 693.60L1574.45 696.15L1574.45 706.35L1577.00 708.90L1577.00 719.10L1579.55 721.65L1579.55 729.30L1582.10 731.85L1582.10 736.95L1584.65 739.50L1584.65 742.05L1587.20 742.05L1589.75 739.50L1589.75 736.95L1592.30 734.40L1592.30 726.75L1594.85 724.20L1594.85 716.55L1597.40 714.00L1597.40 701.25L1599.95 698.70L1599.95 685.95L1602.50 683.40L1602.50 673.20L1605.05 670.65L1605.05 663.00L1607.60 660.45L1607.60 655.35L1610.15 652.80L1612.70 652.80L1615.25 655.35L1615.25 657.90L1617.80 660.45L1617.80 668.10L1620.35 670.65L1620.35 678.30L1622.90 680.85L1622.90 688.50L1625.45 691.05L1625.45 696.15L1628.00 698.70L1628.00 701.25L1630.55 703.80L1633.10 701.25L1635.65 698.70L1635.65 696.15L1638.20 693.60L1638.20 688.50L1640.75 685.95L1640.75 675.75L1643.30 673.20L1643.30 663.00L1645.85 660.45L1645.85 650.25L1648.40 647.70L1648.40 640.05L1650.95 637.50L1650.95 629.85L1653.50 627.30L1653.50 624.75L1656.05 624.75L1658.60 627.30L1658.60 629.85L1661.15 632.40L1661.15 637.50L1663.70 640.05L1663.70 650.25L1666.25 652.80L1666.25 665.55L1668.80 668.10L1668.80 683.40L1671.35 685.95L1671.35 698.70L1673.90 701.25L1673.90 711.45L1676.45 714.00L1676.45 721.65L1679.00 724.20L1681.55 724.20L1684.10 721.65L1684.10 719.10L1686.65 716.55L1686.65 714.00L1689.20 711.45L1689.20 703.80L1691.75 701.25L1691.75 693.60L1694.30 691.05L1694.30 683.40L1696.85 680.85L1696.85 675.75L1699.40 673.20L1699.40 670.65L1701.95 670.65L1704.50 673.20L1707.05 675.75L1707.05 678.30L1709.60 680.85L1709.60 688.50L1712.15 691.05L1712.15 701.25L1714.70 703.80L1714.70 711.45L1717.25 714.00L1717.25 721.65L1719.80 724.20L1719.80 729.30L1722.35 731.85L1722.35 734.40L1724.90 734.40L1727.45 731.85L1730.00 729.30L1730.00 724.20L1732.55 721.65L1732.55 714.00L1735.10 711.45L1735.10 701.25L1737.65 698.70L1737.65 688.50L1740.20 685.95L1740.20 673.20L1742.75 670.65L1742.75 657.90L1745.30 655.35L1745.30 642.60L1747.85 640.05L1747.85 629.85L1750.40 627.30L1750.40 622.20L1752.95 619.65L1752.95 614.55" stroke="#ff0000" stroke-width="2.9"/>
<path d="M82.70 617.10L82.70 634.95L85.25 637.50L85.25 655.35L87.80 657.90L87.80 683.40L90.35 685.95L90.35 708.90L92.90 711.45L92.90 731.85L95.45 734.40L95.45 749.70L98.00 752.25L98.00 759.90L100.55 762.45L103.10 759.90L103.10 752.25L105.65 749.70L105.65 736.95L108.20 734.40L108.20 714.00L110.75 711.45L110.75 688.50L113.30 685.95L113.30 663.00L115.85 660.45L115.85 637.50L118.40 634.95L118.40 619.65L120.95 617.10L120.95 609.45L123.50 606.90L126.05 609.45L126.05 614.55L128.60 617.10L128.60 632.40L131.15 634.95L131.15 652.80L133.70 655.35L133.70 680.85L136.25 683.40L136.25 706.35L138.80 708.90L138.80 729.30L141.35 731.85L141.35 749.70L143.90 752.25L143.90 759.90L146.45 762.45L149.00 759.90L149.00 754.80L151.55 752.25L151.55 739.50L154.10 736.95L154.10 716.55L156.65 714.00L156.65 691.05L159.20 688.50L159.20 665.55L161.75 663.00L161.75 640.05L164.30 637.50L164.30 622.20L166.85 619.65L166.85 609.45L169.40 606.90L171.95 609.45L171.95 614.55L174.50 617.10L174.50 629.85L177.05 632.40L177.05 650.25L179.60 652.80L179.60 675.75L182.15 678.30L182.15 703.80L184.70 706.35L184.70 729.30L187.25 731.85L187.25 747.15L189.80 749.70L189.80 759.90L192.35 762.45L194.90 759.90L194.90 754.80L197.45 752.25L197.45 742.05L200.00 739.50L200.00 719.10L202.55 716.55L202.55 693.60L205.10 691.05L205.10 668.10L207.65 665.55L207.65 642.60L210.20 640.05L210.20 622.20L212.75 619.65L212.75 612.00L215.30 609.45L215.30 606.90L217.85 609.45L217.85 612.00L220.40 614.55L220.40 627.30L222.95 629.85L222.95 647.70L225.50 650.25L225.50 673.20L228.05 675.75L228.05 701.25L230.60 703.80L230.60 726.75L233.15 729.30L233.15 744.60L235.70 747.15L235.70 757.35L238.25 759.90L238.25 762.45L240.80 759.90L240.80 757.35L243.35 754.80L243.35 742.05L245.90 739.50L245.90 721.65L248.45 719.10L248.45 696.15L251.00 693.60L251.00 670.65L253.55 668.10L253.55 645.15L256.10 642.60L256.10 624.75L258.65 622.20L258.65 612.00L261.20 609.45L261.20 606.90L263.75 609.45L263.75 612.00L266.30 614.55L266.30 624.75L268.85 627.30L268.85 645.15L271.40 647.70L271.40 670.65L273.95 673.20L273.95 698.70L276.50 701.25L276.50 724.20L279.05 726.75L279.05 744.60L281.60 747.15L281.60 757.35L284.15 759.90L284.15 762.45L286.70 759.90L286.70 757.35L289.25 754.80L289.25 744.60L291.80 742.05L291.80 724.20L294.35 721.65L294.35 701.25L296.90 698.70L296.90 673.20L299.45 670.65L299.45 647.70L302.00 645.15L302.00 627.30L304.55 624.75L304.55 612.00L307.10 609.45L307.10 606.90L309.65 609.45L309.65 612.00L312.20 614.55L312.20 624.75L314.75 627.30L314.75 642.60L317.30 645.15L317.30 668.10L319.85 670.65L319.85 696.15L322.40 698.70L322.40 721.65L324.95 724.20L324.95 742.05L327.50 744.60L327.50 757.35L330.05 759.90L330.05 762.45L332.60 759.90L335.15 757.35L335.15 747.15L337.70 744.60L337.70 726.75L340.25 724.20L340.25 703.80L342.80 701.25L342.80 675.75L345.35 673.20L345.35 650.25L347.90 647.70L347.90 629.85L350.45 627.30L350.45 614.55L353.00 612.00L353.00 606.90L355.55 609.45L358.10 612.00L358.10 614.55L360.65 617.10L360.65 624.75L363.20 627.30L363.20 637.50L365.75 640.05L365.75 655.35L368.30 657.90L368.30 670.65L370.85 673.20L370.85 688.50L373.40 691.05L373.40 706.35L375.95 708.90L375.95 721.65L378.50 724.20L378.50 731.85L381.05 734.40L381.05 742.05L383.60 744.60L386.15 744.60L388.70 742.05L388.70 736.95L391.25 734.40L391.25 729.30L393.80 726.75L393.80 716.55L396.35 714.00L396.35 701.25L398.90 698.70L398.90 688.50L401.45 685.95L401.45 678.30L404.00 675.75L404.00 668.10L406.55 665.55L409.10 665.55L411.65 668.10L411.65 670.65L414.20 673.20L414.20 678.30L416.75 680.85L416.75 688.50L419.30 691.05L419.30 698.70L421.85 701.25L421.85 708.90L424.40 711.45L424.40 716.55L426.95 719.10L426.95 721.65L429.50 721.65L432.05 719.10L434.60 716.55L434.60 711.45L437.15 708.90L437.15 698.70L439.70 696.15L439.70 685.95L442.25 683.40L442.25 670.65L444.80 668.10L444.80 655.35L447.35 652.80L447.35 642.60L449.90 640.05L449.90 632.40L452.45 629.85L452.45 624.75L455.00 622.20L457.55 624.75L457.55 627.30L460.10 629.85L460.10 634.95L462.65 637.50L462.65 645.15L465.20 647.70L465.20 660.45L467.75 663.00L467.75 675.75L470.30 678.30L470.30 688.50L472.85 691.05L472.85 701.25L475.40 703.80L475.40 706.35L477.95 708.90L480.50 706.35L483.05 703.80L483.05 701.25L485.60 698.70L485.60 693.60L488.15 691.05L488.15 683.40L490.70 680.85L490.70 673.20L493.25 670.65L493.25 663.00L495.80 660.45L495.80 657.90L498.35 655.35L500.90 657.90L503.45 660.45L503.45 665.55L506.00 668.10L506.00 675.75L508.55 678.30L508.55 691.05L511.10 693.60L511.10 706.35L513.65 708.90L513.65 721.65L516.20 724.20L516.20 734.40L518.75 736.95L518.75 744.60L521.30 747.15L521.30 749.70L523.85 749.70L526.40 747.15L526.40 742.05L528.95 739.50L528.95 731.85L531.50 729.30L531.50 716.55L534.05 714.00L534.05 701.25L536.60 698.70L536.60 685.95L539.15 683.40L539.15 670.65L541.70 668.10L541.70 660.45L544.25 657.90L544.25 652.80L546.80 652.80L549.35 655.35L551.90 657.90L551.90 663.00L554.45 665.55L554.45 670.65L557.00 673.20L557.00 680.85L559.55 683.40L559.55 691.05L562.10 693.60L562.10 698.70L564.65 701.25L564.65 706.35L567.20 708.90L569.75 708.90L572.30 706.35L572.30 701.25L574.85 698.70L574.85 693.60L577.40 691.05L577.40 680.85L579.95 678.30L579.95 665.55L582.50 663.00L582.50 650.25L585.05 647.70L585.05 637.50L587.60 634.95L587.60 629.85L590.15 627.30L590.15 624.75L592.70 622.20L592.70 624.75L595.25 627.30L595.25 629.85L597.80 632.40L597.80 637.50L600.35 640.05L600.35 650.25L602.90 652.80L602.90 668.10L605.45 670.65L605.45 683.40L608.00 685.95L608.00 698.70L610.55 701.25L610.55 711.45L613.10 714.00L613.10 721.65L615.65 724.20L618.20 724.20L620.75 721.65L620.75 719.10L623.30 716.55L623.30 711.45L625.85 708.90L625.85 701.25L628.40 698.70L628.40 691.05L630.95 688.50L630.95 680.85L633.50 678.30L633.50 673.20L636.05 670.65L636.05 668.10L638.60 665.55L641.15 668.10L643.70 670.65L643.70 678.30L646.25 680.85L646.25 688.50L648.80 691.05L648.80 703.80L651.35 706.35L651.35 719.10L653.90 721.65L653.90 729.30L656.45 731.85L656.45 739.50L659.00 742.05L661.55 739.50L664.10 736.95L664.10 734.40L666.65 731.85L666.65 724.20L669.20 721.65L669.20 708.90L671.75 706.35L671.75 693.60L674.30 691.05L674.30 678.30L676.85 675.75L676.85 663.00L679.40 660.45L679.40 650.25L681.95 647.70L681.95 642.60L684.50 640.05L684.50 637.50L687.05 637.50L689.60 640.05L689.60 642.60L692.15 645.15L692.15 650.25L694.70 652.80L694.70 660.45L697.25 663.00L697.25 673.20L699.80 675.75L699.80 683.40L702.35 685.95L702.35 693.60L704.90 696.15L704.90 698.70L707.45 701.25L710.00 701.25L712.55 698.70L712.55 693.60L715.10 691.05L715.10 685.95L717.65 683.40L717.65 673.20L720.20 670.65L720.20 660.45L722.75 657.90L722.75 647.70L725.30 645.15L725.30 640.05L727.85 637.50L727.85 634.95L730.40 632.40L730.40 634.95L732.95 637.50L735.50 640.05L735.50 647.70L738.05 650.25L738.05 660.45L740.60 663.00L740.60 673.20L743.15 675.75L743.15 691.05L745.70 693.60L745.70 706.35L748.25 708.90L748.25 719.10L750.80 721.65L750.80 731.85L753.35 734.40L753.35 736.95L755.90 739.50L758.45 736.95L761.00 734.40L761.00 729.30L763.55 726.75L763.55 719.10L766.10 716.55L766.10 703.80L768.65 701.25L768.65 691.05L771.20 688.50L771.20 680.85L773.75 678.30L773.75 670.65L776.30 668.10L778.85 668.10L781.40 670.65L781.40 673.20L783.95 675.75L783.95 680.85L786.50 683.40L786.50 691.05L789.05 693.60L789.05 701.25L791.60 703.80L791.60 714.00L794.15 716.55L794.15 721.65L796.70 724.20L796.70 726.75L799.25 729.30L801.80 726.75L804.35 724.20L804.35 719.10L806.90 716.55L806.90 706.35L809.45 703.80L809.45 691.05L812.00 688.50L812.00 673.20L814.55 670.65L814.55 655.35L817.10 652.80L817.10 642.60L819.65 640.05L819.65 632.40L822.20 629.85L822.20 624.75L824.75 624.75L827.30 627.30L827.30 629.85L829.85 632.40L829.85 640.05L832.40 642.60L832.40 650.25L834.95 652.80L834.95 665.55L837.50 668.10L837.50 678.30L840.05 680.85L840.05 691.05L842.60 693.60L842.60 701.25L845.15 703.80L845.15 706.35L847.70 706.35L850.25 703.80L852.80 701.25L852.80 696.15L855.35 693.60L855.35 688.50L857.90 685.95L857.90 678.30L860.45 675.75L860.45 668.10L863.00 665.55L863.00 657.90L865.55 655.35L865.55 652.80L868.10 650.25L870.65 650.25L873.20 652.80L873.20 657.90L875.75 660.45L875.75 668.10L878.30 670.65L878.30 680.85L880.85 683.40L880.85 696.15L883.40 698.70L883.40 711.45L885.95 714.00L885.95 726.75L888.50 729.30L888.50 736.95L891.05 739.50L891.05 744.60L893.60 747.15L896.15 744.60L898.70 742.05L898.70 734.40L901.25 731.85L901.25 724.20L903.80 721.65L903.80 708.90L906.35 706.35L906.35 691.05L908.90 688.50L908.90 678.30L911.45 675.75L911.45 665.55L914.00 663.00L914.00 657.90L916.55 657.90L919.10 660.45L921.65 663.00L921.65 668.10L924.20 670.65L924.20 678.30L926.75 680.85L926.75 691.05L929.30 693.60L929.30 701.25L931.85 703.80L931.85 708.90L934.40 711.45L934.40 714.00L936.95 714.00L939.50 711.45L939.50 708.90L942.05 706.35L942.05 701.25L944.60 698.70L944.60 688.50L947.15 685.95L947.15 675.75L949.70 673.20L949.70 660.45L952.25 657.90L952.25 647.70L954.80 645.15L954.80 637.50L957.35 634.95L957.35 627.30L959.90 624.75L959.90 622.20L962.45 622.20L965.00 624.75L965.00 627.30L967.55 629.85L967.55 637.50L970.10 640.05L970.10 652.80L972.65 655.35L972.65 668.10L975.20 670.65L975.20 683.40L977.75 685.95L977.75 698.70L980.30 701.25L980.30 711.45L982.85 714.00L982.85 719.10L985.40 721.65L987.95 719.10L990.50 716.55L990.50 711.45L993.05 708.90L993.05 701.25L995.60 698.70L995.60 688.50L998.15 685.95L998.15 678.30L1000.70 675.75L1000.70 668.10L1003.25 665.55L1003.25 663.00L1005.80 663.00L1008.35 665.55L1010.90 668.10L1010.90 673.20L1013.45 675.75L1013.45 683.40L1016.00 685.95L1016.00 696.15L1018.55 698.70L1018.55 708.90L1021.10 711.45L1021.10 721.65L1023.65 724.20L1023.65 731.85L1026.20 734.40L1026.20 739.50L1028.75 742.05L1028.75 744.60L1031.30 744.60L1033.85 742.05L1033.85 739.50L1036.40 736.95L1036.40 731.85L1038.95 729.30L1038.95 719.10L1041.50 716.55L1041.50 703.80L1044.05 701.25L1044.05 688.50L1046.60 685.95L1046.60 673.20L1049.15 670.65L1049.15 660.45L1051.70 657.90L1051.70 650.25L1054.25 647.70L1054.25 642.60L1056.80 642.60L1059.35 645.15L1061.90 647.70L1061.90 652.80L1064.45 655.35L1064.45 663.00L1067.00 665.55L1067.00 675.75L1069.55 678.30L1069.55 688.50L1072.10 691.05L1072.10 696.15L1074.65 698.70L1074.65 703.80L1077.20 703.80L1079.75 701.25L1082.30 698.70L1082.30 693.60L1084.85 691.05L1084.85 683.40L1087.40 680.85L1087.40 670.65L1089.95 668.10L1089.95 657.90L1092.50 655.35L1092.50 645.15L1095.05 642.60L1095.05 637.50L1097.60 634.95L1097.60 632.40L1100.15 629.85L1102.70 632.40L1102.70 634.95L1105.25 637.50L1105.25 645.15L1107.80 647.70L1107.80 657.90L1110.35 660.45L1110.35 673.20L1112.90 675.75L1112.90 688.50L1115.45 691.05L1115.45 706.35L1118.00 708.90L1118.00 719.10L1120.55 721.65L1120.55 729.30L1123.10 731.85L1123.10 734.40L1125.65 734.40L1128.20 731.85L1128.20 729.30L1130.75 726.75L1130.75 721.65L1133.30 719.10L1133.30 711.45L1135.85 708.90L1135.85 701.25L1138.40 698.70L1138.40 688.50L1140.95 685.95L1140.95 678.30L1143.50 675.75L1143.50 670.65L1146.05 668.10L1148.60 668.10L1151.15 670.65L1151.15 673.20L1153.70 675.75L1153.70 683.40L1156.25 685.95L1156.25 696.15L1158.80 698.70L1158.80 708.90L1161.35 711.45L1161.35 719.10L1163.90 721.65L1163.90 729.30L1166.45 731.85L1166.45 734.40L1169.00 734.40L1171.55 731.85L1171.55 729.30L1174.10 726.75L1174.10 719.10L1176.65 716.55L1176.65 706.35L1179.20 703.80L1179.20 691.05L1181.75 688.50L1181.75 673.20L1184.30 670.65L1184.30 657.90L1186.85 655.35L1186.85 645.15L1189.40 642.60L1189.40 634.95L1191.95 632.40L1191.95 629.85L1194.50 629.85L1197.05 632.40L1197.05 634.95L1199.60 637.50L1199.60 642.60L1202.15 645.15L1202.15 652.80L1204.70 655.35L1204.70 665.55L1207.25 668.10L1207.25 678.30L1209.80 680.85L1209.80 688.50L1212.35 691.05L1212.35 698.70L1214.90 701.25L1214.90 703.80L1217.45 703.80L1220.00 701.25L1222.55 698.70L1222.55 693.60L1225.10 691.05L1225.10 683.40L1227.65 680.85L1227.65 673.20L1230.20 670.65L1230.20 660.45L1232.75 657.90L1232.75 650.25L1235.30 647.70L1235.30 645.15L1237.85 642.60L1240.40 645.15L1242.95 647.70L1242.95 655.35L1245.50 657.90L1245.50 665.55L1248.05 668.10L1248.05 680.85L1250.60 683.40L1250.60 698.70L1253.15 701.25L1253.15 714.00L1255.70 716.55L1255.70 726.75L1258.25 729.30L1258.25 736.95L1260.80 739.50L1260.80 744.60L1263.35 744.60L1265.90 742.05L1265.90 739.50L1268.45 736.95L1268.45 731.85L1271.00 729.30L1271.00 719.10L1273.55 716.55L1273.55 706.35L1276.10 703.80L1276.10 691.05L1278.65 688.50L1278.65 680.85L1281.20 678.30L1281.20 670.65L1283.75 668.10L1283.75 663.00L1286.30 663.00L1288.85 665.55L1291.40 668.10L1291.40 673.20L1293.95 675.75L1293.95 680.85L1296.50 683.40L1296.50 691.05L1299.05 693.60L1299.05 701.25L1301.60 703.80L1301.60 711.45L1304.15 714.00L1304.15 716.55L1306.70 719.10L1309.25 719.10L1311.80 716.55L1311.80 711.45L1314.35 708.90L1314.35 698.70L1316.90 696.15L1316.90 683.40L1319.45 680.85L1319.45 668.10L1322.00 665.55L1322.00 652.80L1324.55 650.25L1324.55 637.50L1327.10 634.95L1327.10 627.30L1329.65 624.75L1332.20 622.20L1332.20 624.75L1334.75 627.30L1334.75 629.85L1337.30 632.40L1337.30 640.05L1339.85 642.60L1339.85 652.80L1342.40 655.35L1342.40 668.10L1344.95 670.65L1344.95 680.85L1347.50 683.40L1347.50 696.15L1350.05 698.70L1350.05 706.35L1352.60 708.90L1352.60 711.45L1355.15 714.00L1357.70 711.45L1360.25 708.90L1360.25 703.80L1362.80 701.25L1362.80 696.15L1365.35 693.60L1365.35 683.40L1367.90 680.85L1367.90 673.20L1370.45 670.65L1370.45 665.55L1373.00 663.00L1373.00 660.45L1375.55 657.90L1378.10 660.45L1378.10 663.00L1380.65 665.55L1380.65 668.10L1383.20 670.65L1383.20 680.85L1385.75 683.40L1385.75 693.60L1388.30 696.15L1388.30 706.35L1390.85 708.90L1390.85 721.65L1393.40 724.20L1393.40 731.85L1395.95 734.40L1395.95 739.50L1398.50 742.05L1398.50 744.60L1401.05 744.60L1403.60 742.05L1403.60 739.50L1406.15 736.95L1406.15 729.30L1408.70 726.75L1408.70 716.55L1411.25 714.00L1411.25 701.25L1413.80 698.70L1413.80 685.95L1416.35 683.40L1416.35 670.65L1418.90 668.10L1418.90 657.90L1421.45 655.35L1421.45 650.25L1424.00 647.70L1426.55 650.25L1429.10 652.80L1429.10 655.35L1431.65 657.90L1431.65 665.55L1434.20 668.10L1434.20 675.75L1436.75 678.30L1436.75 685.95L1439.30 688.50L1439.30 696.15L1441.85 698.70L1441.85 703.80L1444.40 706.35L1446.95 706.35L1449.50 703.80L1449.50 701.25L1452.05 698.70L1452.05 691.05L1454.60 688.50L1454.60 680.85L1457.15 678.30L1457.15 668.10L1459.70 665.55L1459.70 655.35L1462.25 652.80L1462.25 642.60L1464.80 640.05L1464.80 634.95L1467.35 632.40L1467.35 629.85L1469.90 627.30L1469.90 629.85L1472.45 632.40L1475.00 634.95L1475.00 642.60L1477.55 645.15L1477.55 655.35L1480.10 657.90L1480.10 670.65L1482.65 673.20L1482.65 685.95L1485.20 688.50L1485.20 701.25L1487.75 703.80L1487.75 714.00L1490.30 716.55L1490.30 724.20L1492.85 726.75L1492.85 729.30L1495.40 729.30L1497.95 726.75L1497.95 724.20L1500.50 721.65L1500.50 716.55L1503.05 714.00L1503.05 706.35L1505.60 703.80L1505.60 696.15L1508.15 693.60L1508.15 683.40L1510.70 680.85L1510.70 675.75L1513.25 673.20L1513.25 668.10L1515.80 665.55L1518.35 668.10L1520.90 670.65L1520.90 673.20L1523.45 675.75L1523.45 683.40L1526.00 685.95L1526.00 696.15L1528.55 698.70L1528.55 711.45L1531.10 714.00L1531.10 721.65L1533.65 724.20L1533.65 731.85L1536.20 734.40L1536.20 736.95L1538.75 736.95L1541.30 734.40L1541.30 731.85L1543.85 729.30L1543.85 724.20L1546.40 721.65L1546.40 711.45L1548.95 708.90L1548.95 698.70L1551.50 696.15L1551.50 680.85L1554.05 678.30L1554.05 668.10L1556.60 665.55L1556.60 652.80L1559.15 650.25L1559.15 642.60L1561.70 640.05L1561.70 637.50L1564.25 634.95L1566.80 637.50L1566.80 640.05L1569.35 642.60L1569.35 645.15L1571.90 647.70L1571.90 655.35L1574.45 657.90L1574.45 668.10L1577.00 670.65L1577.00 680.85L1579.55 683.40L1579.55 691.05L1582.10 693.60L1582.10 698.70L1584.65 701.25L1584.65 703.80L1587.20 701.25L1589.75 698.70L1589.75 696.15L1592.30 693.60L1592.30 685.95L1594.85 683.40L1594.85 675.75L1597.40 673.20L1597.40 660.45L1599.95 657.90L1599.95 650.25L1602.50 647.70L1602.50 642.60L1605.05 640.05L1605.05 637.50L1607.60 640.05L1610.15 642.60L1610.15 645.15L1612.70 647.70L1612.70 657.90L1615.25 660.45L1615.25 670.65L1617.80 673.20L1617.80 685.95L1620.35 688.50L1620.35 703.80L1622.90 706.35L1622.90 719.10L1625.45 721.65L1625.45 729.30L1628.00 731.85L1628.00 739.50L1630.55 742.05L1633.10 742.05L1635.65 739.50L1635.65 734.40L1638.20 731.85L1638.20 726.75L1640.75 724.20L1640.75 714.00L1643.30 711.45L1643.30 701.25L1645.85 698.70L1645.85 688.50L1648.40 685.95L1648.40 678.30L1650.95 675.75L1650.95 670.65L1653.50 668.10L1653.50 665.55L1656.05 665.55L1658.60 668.10L1658.60 670.65L1661.15 673.20L1661.15 678.30L1663.70 680.85L1663.70 685.95L1666.25 688.50L1666.25 696.15L1668.80 698.70L1668.80 706.35L1671.35 708.90L1671.35 716.55L1673.90 719.10L1673.90 721.65L1676.45 724.20L1679.00 721.65L1681.55 719.10L1681.55 716.55L1684.10 714.00L1684.10 703.80L1686.65 701.25L1686.65 691.05L1689.20 688.50L1689.20 673.20L1691.75 670.65L1691.75 657.90L1694.30 655.35L1694.30 642.60L1696.85 640.05L1696.85 632.40L1699.40 629.85L1699.40 624.75L1701.95 622.20L1704.50 624.75L1704.50 627.30L1707.05 629.85L1707.05 634.95L1709.60 637.50L1709.60 647.70L1712.15 650.25L1712.15 660.45L1714.70 663.00L1714.70 675.75L1717.25 678.30L1717.25 691.05L1719.80 693.60L1719.80 701.25L1722.35 703.80L1722.35 706.35L1724.90 708.90L1727.45 708.90L1730.00 706.35L1730.00 703.80L1732.55 701.25L1732.55 698.70L1735.10 696.15L1735.10 688.50L1737.65 685.95L1737.65 680.85L1740.20 678.30L1740.20 670.65L1742.75 668.10L1742.75 663.00L1745.30 660.45L1745.30 652.80L1747.85 650.25L1747.85 647.70L1750.40 645.15L1750.40 642.60L1752.95 640.05" stroke="#000" stroke-width="2.9"/>
</g>
<g class="tk">
<text transform="translate(77.6,544.8) scale(1,0.950)" text-anchor="end">2</text><text transform="translate(78.3,619.8) scale(1,0.950)" text-anchor="end"><tspan class="one">1</tspan></text><text transform="translate(78.6,696.9) scale(1,0.950)" text-anchor="end">0</text><text transform="translate(78.3,774.8) scale(1,0.950)" text-anchor="end">-<tspan class="one">1</tspan></text><text transform="translate(77.0,851.8) scale(1,0.950)" text-anchor="end">-2</text>
<text transform="translate(85.2,878.1) scale(1,0.950)" text-anchor="middle">0.2</text><text transform="translate(362.2,878.1) scale(1,0.950)" text-anchor="middle">0.3</text><text transform="translate(639.2,878.1) scale(1,0.950)" text-anchor="middle">0.4</text><text transform="translate(916.1,878.1) scale(1,0.950)" text-anchor="middle">0.5</text><text transform="translate(1193.1,878.1) scale(1,0.950)" text-anchor="middle">0.6</text><text transform="translate(1470.1,878.1) scale(1,0.950)" text-anchor="middle">0.7</text><text transform="translate(1747.1,878.1) scale(1,0.950)" text-anchor="middle">0.8</text>
</g>
<text class="al" transform="translate(24.3,687.6) rotate(-90)" style="font-size:25px;letter-spacing:0.7px" text-anchor="middle">V (pu)</text>
<text class="al" x="913.6" y="915.6" text-anchor="middle">Time(Sec.)</text>
<text class="cap" x="951.7" y="1002.8" text-anchor="middle">(b) Phases a and c at LV side</text>
<rect x="1498.2" y="538.7" width="247.1" height="93.7" fill="#fff" stroke="#000" stroke-width="3.2"/>
<path d="M1517.9 562.9H1618.2" stroke="#ff0000" stroke-width="3"/>
<path d="M1517.9 605.5H1618.2" stroke="#000" stroke-width="3"/>
<text class="lg" x="1628" y="574">Phase A</text>
<text class="lg" x="1628" y="616.6">Phase C</text>
</svg>
</body></html>
